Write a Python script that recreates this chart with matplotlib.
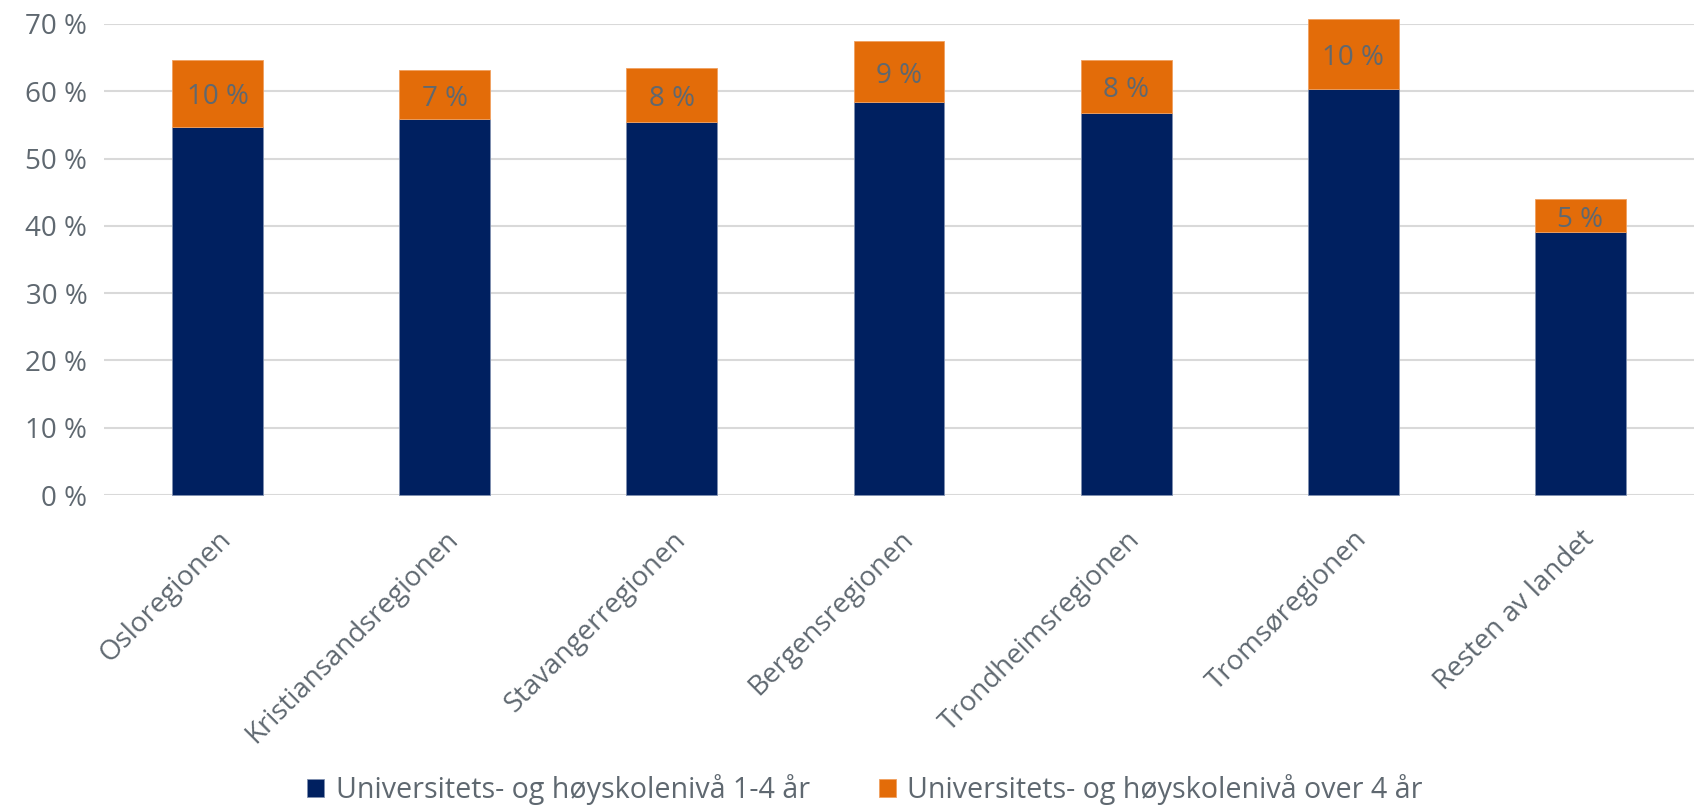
import matplotlib
matplotlib.use("Agg")
import matplotlib.pyplot as plt
import numpy as np
from matplotlib.ticker import FuncFormatter

categories = ["Osloregionen", "Kristiansandsregionen", "Stavangerregionen",
              "Bergensregionen", "Trondheimsregionen", "Tromsøregionen", "Resten av landet"]
level_1_4 = [54.7, 55.9, 55.4, 58.4, 56.8, 60.3, 39.1]
level_over4 = [10.0, 7.2, 8.1, 9.0, 7.9, 10.4, 4.9]
labels_over4 = ["10 %", "7 %", "8 %", "9 %", "8 %", "10 %", "5 %"]
series_names = ["Universitets- og høyskolenivå 1-4 år", "Universitets- og høyskolenivå over 4 år"]

navy = "#002060"
orange = "#E36C09"
txt = "#5F6870"

plt.rcParams['font.family'] = ['Open Sans', 'DejaVu Sans']

fig = plt.figure(figsize=(16.98, 8.08), dpi=100)
ax = fig.add_axes([104/1698, (808-495)/808, (1694-104)/1698, (495-23.9)/808])

x = np.arange(len(categories))
b1 = ax.bar(x, level_1_4, width=0.4, color=navy, edgecolor="#8090b0", linewidth=0.6, zorder=3,
            label=series_names[0], clip_on=False)
b2 = ax.bar(x, level_over4, width=0.4, bottom=level_1_4, color=orange, edgecolor="#f0a060",
            linewidth=0.6, zorder=3, label=series_names[1], clip_on=False)
for xi, b, h, lab in zip(x, level_1_4, level_over4, labels_over4):
    ax.annotate(lab, (xi, b + h / 2), xytext=(0, -3), textcoords="offset points",
                ha="center", va="center", fontsize=20, color=txt, zorder=4)

ax.set_ylim(0, 70)
ax.set_xlim(-0.5, len(categories) - 0.5)
ax.set_yticks(np.arange(0, 71, 10))
ax.yaxis.set_major_formatter(FuncFormatter(lambda v, p: f"{int(v)} %"))
ax.grid(axis="y", color="#D9D9D9", linewidth=1.5, zorder=0)
for s in ax.spines.values():
    s.set_visible(False)
ax.tick_params(axis="both", length=0, labelsize=20, labelcolor=txt)
ax.tick_params(axis="y", pad=12)
ax.set_xticks(x)
ax.set_xticklabels(categories, rotation=45, ha="right", rotation_mode="anchor")
ax.tick_params(axis="x", pad=22)

leg = fig.legend(handles=[b1, b2], labels=series_names, loc="center", ncol=2,
                 bbox_to_anchor=(0.5094, (808-790)/808), frameon=False, fontsize=20.6,
                 handlelength=0.6, handleheight=0.6, handletextpad=0.4, columnspacing=2.4,
                 labelcolor=txt)

fig.savefig("out.png", dpi=100)
